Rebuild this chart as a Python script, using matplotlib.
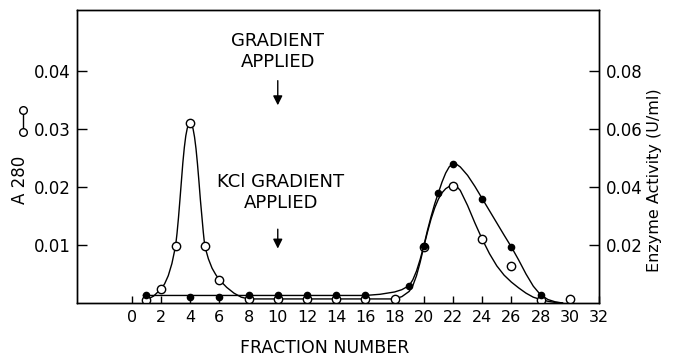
import matplotlib.pyplot as plt
from matplotlib.lines import Line2D

# measured points, A280 (open circles, left axis)
a280_x = [1, 2, 3, 4, 5, 6, 8, 10, 12, 14, 16, 18, 20, 22, 24, 26, 28, 30]
a280_y = [0.0005, 0.0024, 0.0098, 0.0310, 0.0098, 0.0040, 0.0007, 0.0007, 0.0007,
          0.0007, 0.0007, 0.0007, 0.0097, 0.0202, 0.0110, 0.0064, 0.0006, 0.0007]

# enzyme activity (filled circles, right axis)
enz_x = [1, 4, 6, 8, 10, 12, 14, 16, 19, 20, 21, 22, 24, 26, 28]
enz_y = [0.0026, 0.0020, 0.0020, 0.0026, 0.0026, 0.0026, 0.0026, 0.0026,
         0.0060, 0.0197, 0.0380, 0.0480, 0.0360, 0.0193, 0.0028]

# hand drawn curves
a280_cx = [1.0, 1.5, 2.0, 2.25, 2.5, 2.75, 3.0, 3.1, 3.2, 3.3, 3.4, 3.5, 3.6, 3.7, 3.8,
           3.9, 4.0, 4.1, 4.2, 4.3, 4.4, 4.5, 4.6, 4.7, 4.8, 4.9, 5.0, 5.25, 5.5, 5.75,
           6.0, 6.5, 7.0, 7.5, 8.0, 18.0, 18.5, 19.0, 19.25, 19.5, 19.75, 20.0, 20.25,
           20.5, 20.75, 21.0, 21.25, 21.5, 21.75, 22.0, 22.25, 22.5, 23.0, 23.5, 24.0,
           24.5, 25.0, 25.5, 26.0, 26.5, 27.0, 27.5, 28.0, 28.5, 29.0, 29.5]
a280_cy = [0.0005, 0.0012, 0.0024, 0.0033, 0.0047, 0.0068, 0.0098, 0.0120, 0.0147,
           0.0178, 0.0210, 0.0242, 0.0268, 0.0288, 0.0301, 0.0308, 0.0310, 0.0308,
           0.0300, 0.0286, 0.0266, 0.0240, 0.0210, 0.0178, 0.0150, 0.0122, 0.0098,
           0.0076, 0.0060, 0.0049, 0.0040, 0.0027, 0.0017, 0.0010, 0.0007, 0.0007,
           0.0011, 0.0020, 0.0030, 0.0047, 0.0070, 0.0097, 0.0122, 0.0145, 0.0164,
           0.0179, 0.0190, 0.0197, 0.0201, 0.0203, 0.0201, 0.0194, 0.0168, 0.0138,
           0.0110, 0.0085, 0.0064, 0.0048, 0.0036, 0.0026, 0.0017, 0.0010, 0.0006,
           0.0003, 0.0001, 0.0]

enz_cx = [0.8, 16.0, 17.0, 18.0, 18.5, 19.0, 19.25, 19.5, 19.75, 20.0, 20.25, 20.5,
          20.75, 21.0, 21.25, 21.5, 21.75, 22.0, 22.25, 22.5, 23.0, 23.5, 24.0, 24.5,
          25.0, 25.5, 26.0, 26.5, 27.0, 27.5, 28.0, 28.5, 29.0, 29.5]
enz_cy = [0.0026, 0.0026, 0.0030, 0.0038, 0.0046, 0.0060, 0.0080, 0.0110, 0.0150,
          0.0197, 0.0250, 0.0298, 0.0342, 0.0380, 0.0417, 0.0448, 0.0470, 0.0480,
          0.0478, 0.0469, 0.0440, 0.0402, 0.0360, 0.0318, 0.0276, 0.0234, 0.0193,
          0.0148, 0.0100, 0.0058, 0.0028, 0.0012, 0.0004, 0.0]

x_ticks = list(range(0, 33, 2))
left_ticks = [0.01, 0.02, 0.03, 0.04]
right_ticks = [0.02, 0.04, 0.06, 0.08]

fig = plt.figure(figsize=(6.8, 3.58), dpi=100)
ax = fig.add_axes([77 / 680, 1 - 303 / 358, 522 / 680, 293 / 358])
ax2 = ax.twinx()

ax.plot(a280_cx, a280_cy, color='black', lw=1.0)
ax.plot(a280_x, a280_y, 'o', mfc='white', mec='black', mew=1.0, ms=6, zorder=5)
ax2.plot(enz_cx, enz_cy, color='black', lw=1.0)
ax2.plot(enz_x, enz_y, 'o', color='black', ms=4.5, zorder=5)

ax.set_xlim(-3.75, 32)
ax.set_ylim(0, 0.0505)
ax2.set_ylim(0, 0.101)

ax.set_xticks(x_ticks)
ax.set_yticks(left_ticks)
ax.set_yticklabels(['%.2f' % v for v in left_ticks])
ax2.set_yticks(right_ticks)
ax2.set_yticklabels(['%.2f' % v for v in right_ticks])

ax.tick_params(axis='x', direction='in', length=5, width=1, labelsize=11.5, pad=5, top=False)
ax.tick_params(axis='y', direction='in', length=7, width=1, labelsize=12, pad=4.5)
ax2.tick_params(axis='y', direction='in', length=7, width=1, labelsize=12, pad=5)
for a in (ax, ax2):
    for s in a.spines.values():
        s.set_linewidth(1.0)

# gradient annotations
ax.text(10, 0.0434, 'GRADIENT\nAPPLIED', ha='center', va='center', fontsize=13, linespacing=1.2)
ax.annotate('', xy=(10, 0.0336), xytext=(10, 0.0388),
            arrowprops=dict(arrowstyle='-|>', color='black', lw=1.0, mutation_scale=14))
ax.text(10.2, 0.0190, 'KCl GRADIENT\nAPPLIED', ha='center', va='center', fontsize=13, linespacing=1.2)
ax.annotate('', xy=(10, 0.0089), xytext=(10, 0.0132),
            arrowprops=dict(arrowstyle='-|>', color='black', lw=1.0, mutation_scale=14))

fig.text(325 / 680, 1 - 348 / 358, 'FRACTION NUMBER', ha='center', va='center', fontsize=12.5)
fig.text(655 / 680, 1 - 180 / 358, 'Enzyme Activity (U/ml)', rotation=90,
         ha='center', va='center', fontsize=11.5)
fig.text(20 / 680, 1 - 180 / 358, 'A 280', rotation=90, ha='center', va='center', fontsize=12)
fig.add_artist(Line2D([23 / 680, 23 / 680], [1 - 110 / 358, 1 - 132 / 358], color='black',
                      lw=1.0, marker='o', mfc='white', mec='black', ms=5.5))

fig.savefig('out.png', dpi=100)
